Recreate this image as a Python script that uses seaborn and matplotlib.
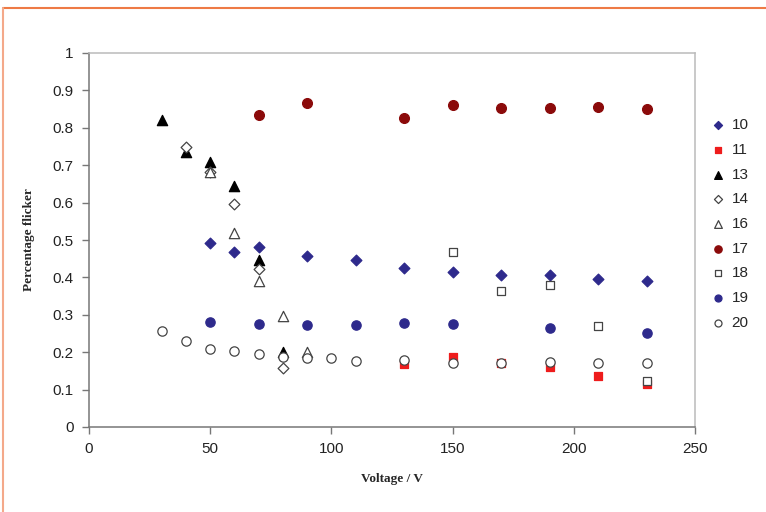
import matplotlib
matplotlib.use("Agg")
import matplotlib.pyplot as plt
import seaborn as sns
from matplotlib.lines import Line2D

# values
x10 = [50, 60, 70, 90, 110, 130, 150, 170, 190, 210, 230]
y10 = [0.491, 0.467, 0.482, 0.456, 0.447, 0.424, 0.414, 0.407, 0.406, 0.396, 0.390]
x11 = [130, 150, 170, 190, 210, 230]
y11 = [0.168, 0.187, 0.172, 0.161, 0.136, 0.116]
x13 = [30, 40, 50, 60, 70, 80]
y13 = [0.821, 0.736, 0.709, 0.645, 0.447, 0.201]
x14 = [40, 50, 60, 70, 80]
y14 = [0.750, 0.681, 0.596, 0.423, 0.158]
x16 = [50, 60, 70, 80, 90]
y16 = [0.682, 0.520, 0.390, 0.297, 0.200]
x17 = [70, 90, 130, 150, 170, 190, 210, 230]
y17 = [0.835, 0.867, 0.827, 0.860, 0.853, 0.853, 0.856, 0.849]
x18 = [150, 170, 190, 210, 230]
y18 = [0.468, 0.363, 0.379, 0.269, 0.124]
x19 = [50, 70, 90, 110, 130, 150, 190, 230]
y19 = [0.281, 0.276, 0.274, 0.272, 0.279, 0.276, 0.266, 0.251]
x20 = [30, 40, 50, 60, 70, 80, 90, 100, 110, 130, 150, 170, 190, 210, 230]
y20 = [0.256, 0.231, 0.209, 0.204, 0.195, 0.188, 0.184, 0.184, 0.177, 0.179, 0.172, 0.172, 0.175, 0.171, 0.171]

series = [
    # label, x, y, marker, face, edge, size
    ("10", x10, y10, "D", "#2e2a8c", "#2e2a8c", 30),
    ("11", x11, y11, "s", "#ee1c1c", "#ee1c1c", 40),
    ("13", x13, y13, "^", "black", "black", 55),
    ("14", x14, y14, "D", "white", "#444444", 30),
    ("16", x16, y16, "^", "white", "#444444", 55),
    ("17", x17, y17, "o", "#8b0a0a", "#8b0a0a", 50),
    ("18", x18, y18, "s", "white", "#444444", 40),
    ("19", x19, y19, "o", "#2e2a8c", "#2e2a8c", 45),
    ("20", x20, y20, "o", "white", "#444444", 45),
]

sns.set_style("white")
plt.rcParams["font.family"] = ["Liberation Sans", "DejaVu Sans"]

fig = plt.figure(figsize=(7.66, 5.12), dpi=100)
ax = fig.add_axes([89 / 766, 1 - 427 / 512, (695 - 89) / 766, (427 - 53) / 512])

for name, xs, ys, m, fc, ec, s in series:
    sns.scatterplot(x=xs, y=ys, marker=m, s=s, color=fc, edgecolor=ec,
                    linewidth=0.9, label=name, ax=ax, zorder=3)

ax.set_xlim(0, 250)
ax.set_ylim(0, 1)
ax.set_xticks(range(0, 251, 50))
ax.set_yticks([i / 10 for i in range(11)])
ax.set_yticklabels(["0"] + [f"{i / 10:.1f}" for i in range(1, 10)] + ["1"])
ax.tick_params(axis="both", which="both", direction="out", length=5, width=1,
               color="#777777", labelsize=11, labelcolor="#222222", pad=6,
               left=True, bottom=True)

for side in ["left", "bottom"]:
    ax.spines[side].set_color("#777777")
    ax.spines[side].set_linewidth(1.1)
for side in ["top", "right"]:
    ax.spines[side].set_visible(True)
    ax.spines[side].set_color("#bbbbbb")
    ax.spines[side].set_linewidth(1.1)

ax.set_xlabel("Voltage / V", family=["Liberation Serif"], fontweight="bold",
              fontsize=9.5, labelpad=12)
ax.set_ylabel("Percentage flicker", family=["Liberation Serif"], fontweight="bold",
              fontsize=9.5, labelpad=13)

ax.legend(loc="center left", bbox_to_anchor=(1.0, 1 - (224 - 53) / 374),
          frameon=False, fontsize=11, labelspacing=0.70, handlelength=1.0,
          handletextpad=0.4, borderaxespad=0.6, markerscale=0.75)

# orange page border
fig.add_artist(Line2D([3 / 766, 1.0], [1 - 8 / 512, 1 - 8 / 512], color="#ee7a45", lw=1.5))
fig.add_artist(Line2D([3 / 766, 3 / 766], [0, 1 - 8 / 512], color="#f4a98a", lw=1.5))

fig.savefig("out.png", dpi=100)
